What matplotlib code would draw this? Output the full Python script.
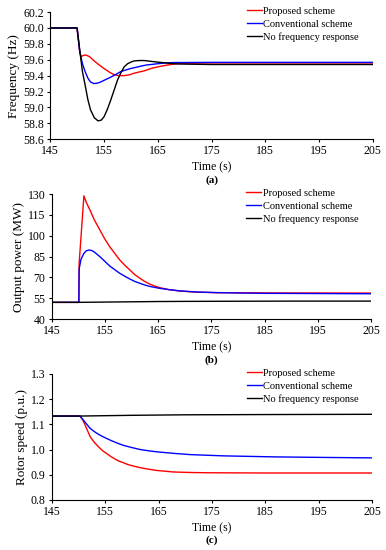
import matplotlib
matplotlib.use('Agg')
import matplotlib.pyplot as plt

plt.rcParams['font.family'] = ['Liberation Serif', 'DejaVu Serif']

labels = ['Proposed scheme', 'Conventional scheme', 'No frequency response']
colors = ['red', 'blue', 'black']

# (a) frequency
t_prop_a = [145, 150, 150.5, 150.75, 151.2, 151.6, 152.3, 153.1, 154, 155, 156, 156.9, 157.8,
            158.75, 159.7, 160.6, 161.5, 162.5, 163.75, 165, 166.5, 168, 170, 175, 185, 205]
f_prop = [60, 60, 59.70, 59.64, 59.655, 59.66, 59.64, 59.59, 59.54, 59.49, 59.445, 59.41, 59.40,
          59.40, 59.41, 59.43, 59.445, 59.46, 59.49, 59.51, 59.53, 59.545, 59.555, 59.56, 59.56, 59.56]
t_conv_a = [145, 150, 150.5, 151, 151.5, 152, 152.5, 153.1, 153.8, 154.4, 155.3, 156.25, 157.2,
            158.1, 159, 160, 161, 161.9, 163, 163.75, 165, 166.5, 168, 170, 175, 185, 205]
f_conv = [60, 60, 59.70, 59.55, 59.45, 59.37, 59.32, 59.30, 59.305, 59.32, 59.35, 59.38, 59.415,
          59.45, 59.47, 59.49, 59.505, 59.52, 59.535, 59.54, 59.55, 59.56, 59.565, 59.565, 59.567,
          59.567, 59.567]
t_none_a = [145, 150, 150.5, 151, 151.56, 152, 152.5, 153.2, 153.9, 154.5, 155, 155.6, 156.25,
            156.9, 157.5, 158.1, 158.75, 159.4, 160, 160.6, 161.5, 162.5, 163.75, 165, 166.5, 168,
            170, 175, 205]
f_none = [60, 60, 59.72, 59.45, 59.26, 59.10, 58.97, 58.87, 58.83, 58.84, 58.88, 58.97, 59.09,
          59.22, 59.34, 59.43, 59.51, 59.55, 59.57, 59.585, 59.59, 59.59, 59.58, 59.57, 59.56, 59.55,
          59.545, 59.54, 59.54]

# (b) output power
t_prop_b = [145, 150.1, 150.15, 151.05, 151.5, 152.2, 153, 154.06, 155, 155.9, 156.9, 157.8, 158.8,
            159.7, 160.6, 161.6, 162.5, 163.4, 164.3, 165.3, 167, 169, 172, 176, 185, 205]
p_prop = [52, 52, 80, 128.8, 124, 118.5, 111.5, 104.1, 97.5, 92.1, 87, 82.5, 78.5,
          75.3, 72, 69.3, 67, 65.2, 63.8, 62.6, 61.2, 60.2, 59.4, 59.0, 58.8, 58.7]
t_conv_b = [145, 150.1, 150.15, 150.5, 151, 151.5, 152.0, 152.5, 153, 154.06, 155, 155.9, 156.9,
            157.8, 158.8, 159.7, 160.6, 161.6, 162.5, 163.4, 165.3, 167, 169, 172, 176, 185, 205]
p_conv = [52, 52, 76, 83, 87, 89.2, 89.7, 89.4, 88.3, 84.9, 81.5, 78.2, 75.4,
          72.9, 70.7, 68.8, 67.1, 65.7, 64.5, 63.5, 62.1, 61.2, 60.3, 59.5, 59.0, 58.5, 58.2]
t_none_b = [145, 150, 155, 160, 165, 170, 180, 190, 205]
p_none = [52, 52, 52.2, 52.4, 52.6, 52.7, 52.8, 52.9, 52.9]

# (c) rotor speed
t_prop_c = [145, 150.3, 150.8, 151.3, 152.2, 153, 153.8, 154.5, 155.3, 156.1, 156.9, 157.6, 158.4,
            159.2, 160, 161.6, 163.2, 164.7, 166.3, 167.8, 171, 174, 185, 205]
w_prop = [1.133, 1.133, 1.118, 1.095, 1.051, 1.028, 1.010, 0.996, 0.984, 0.972, 0.962, 0.954, 0.948,
          0.941, 0.936, 0.928, 0.922, 0.917, 0.914, 0.911, 0.909, 0.908, 0.907, 0.907]
t_conv_c = [145, 150.3, 151, 152.2, 153, 153.8, 154.5, 155.3, 156.1, 156.9, 157.6, 158.4, 160,
            161.6, 163.2, 164.7, 167.8, 170.9, 177.2, 186.6, 195, 205]
w_conv = [1.133, 1.133, 1.115, 1.084, 1.071, 1.060, 1.052, 1.044, 1.036, 1.029, 1.023, 1.017, 1.008,
          1.0, 0.995, 0.991, 0.985, 0.980, 0.975, 0.971, 0.969, 0.967]
t_none_c = [145, 150, 160, 170, 185, 205]
w_none = [1.133, 1.133, 1.136, 1.138, 1.139, 1.14]

xticks = [145, 155, 165, 175, 185, 195, 205]

panels = [
    ([(t_prop_a, f_prop), (t_conv_a, f_conv), (t_none_a, f_none)], 'Frequency (Hz)',
     (58.6, 60.2), [58.6, 58.8, 59.0, 59.2, 59.4, 59.6, 59.8, 60.0, 60.2], '{:.1f}', '(a)',
     [0.130, 0.747, 0.836, 0.231], -0.32),
    ([(t_prop_b, p_prop), (t_conv_b, p_conv), (t_none_b, p_none)], 'Output power (MW)',
     (40, 130), [40, 55, 70, 85, 100, 115, 130], '{:.0f}', '(b)',
     [0.134, 0.420, 0.827, 0.227], -0.33),
    ([(t_prop_c, w_prop), (t_conv_c, w_conv), (t_none_c, w_none)], 'Rotor speed (p.u.)',
     (0.8, 1.3), [0.8, 0.9, 1.0, 1.1, 1.2, 1.3], '{:.1f}', '(c)',
     [0.134, 0.091, 0.830, 0.229], -0.32),
]

fig = plt.figure(figsize=(3.86, 5.5), dpi=100)

for series, ylab, ylim, yticks, fmt, tag, rect, tag_y in panels:
    ax = fig.add_axes(rect)
    for (t, v), c, lab in zip(series, colors, labels):
        ax.plot(t, v, color=c, lw=1.0, label=lab)
    ax.set_xlim(145, 205)
    ax.set_ylim(*ylim)
    ax.set_xticks(xticks)
    ax.set_yticks(yticks)
    ax.set_yticklabels([fmt.format(y) for y in yticks])
    ax.spines['top'].set_visible(False)
    ax.spines['right'].set_visible(False)
    ax.tick_params(labelsize=8.5, length=2.5, width=0.8, pad=2)
    ax.set_ylabel(ylab, fontsize=9.5, labelpad=2)
    ax.set_xlabel('Time (s)', fontsize=8.5, labelpad=3)
    ax.text(0.5, tag_y, tag, transform=ax.transAxes, ha='center', va='center',
            fontsize=8, fontweight='bold')
    ax.legend(loc='upper left', bbox_to_anchor=(0.61, 1.045), frameon=False, fontsize=7.5,
              handlelength=1.4, handletextpad=0.15, labelspacing=0.35, borderpad=0,
              borderaxespad=0)

fig.savefig('out.png', dpi=100)
